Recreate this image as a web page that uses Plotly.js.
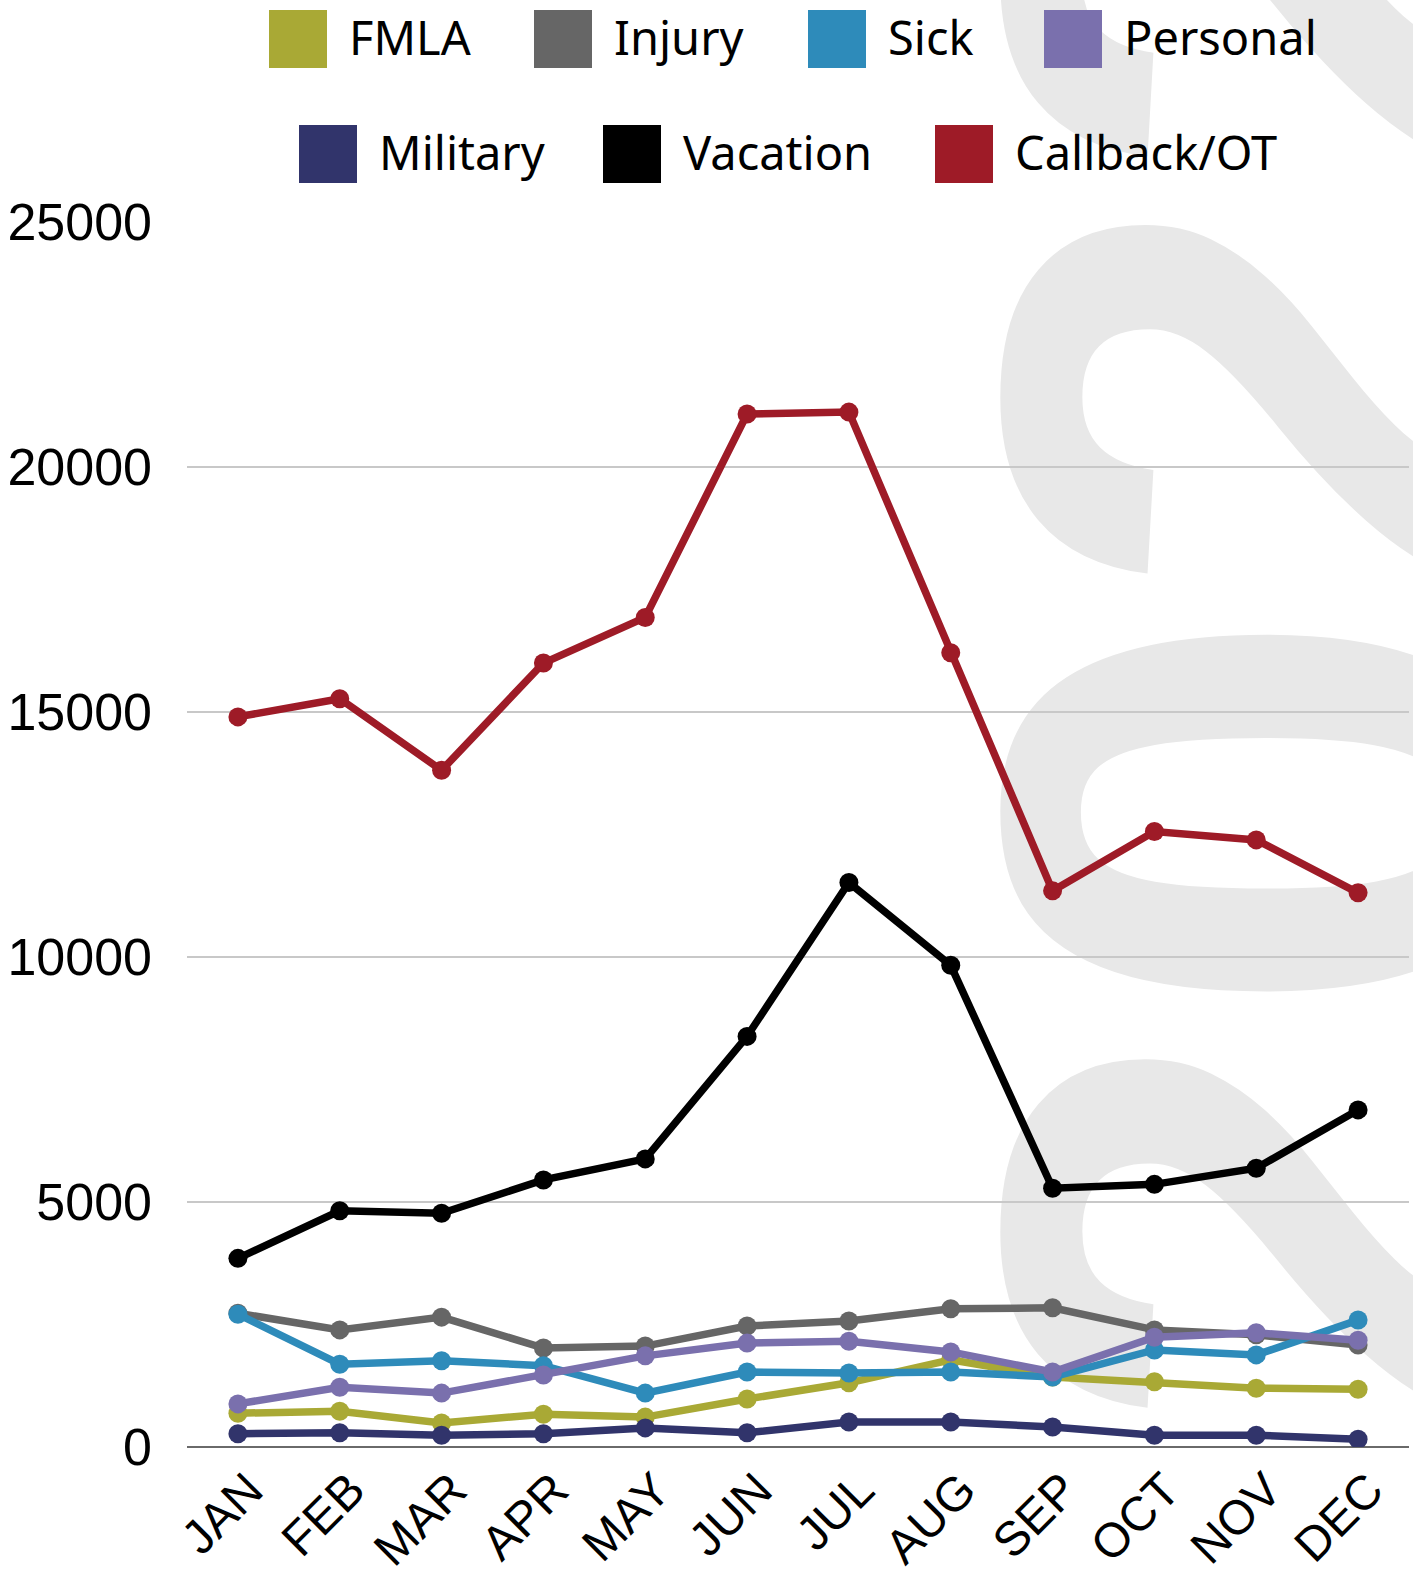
<!DOCTYPE html>
<html>
<head>
<meta charset="utf-8">
<script src="https://cdn.plot.ly/plotly-3.0.1.min.js"></script>
<style>html,body{margin:0;padding:0;background:#fff;}#chart{width:1413px;height:1574px;}</style>
</head>
<body>
<div id="chart"></div>
<script>
// ---- data ----
const months = ['JAN','FEB','MAR','APR','MAY','JUN','JUL','AUG','SEP','OCT','NOV','DEC'];
const fmla     = [690, 730, 490, 670, 610, 980, 1310, 1780, 1430, 1330, 1200, 1180];
const injury   = [2730, 2390, 2650, 2020, 2060, 2470, 2570, 2820, 2840, 2390, 2290, 2080];
const sick     = [2710, 1690, 1760, 1660, 1100, 1530, 1510, 1530, 1430, 1980, 1880, 2590];
const personal = [880, 1220, 1100, 1470, 1860, 2120, 2160, 1940, 1530, 2240, 2330, 2180];
const military = [270, 290, 240, 270, 390, 290, 510, 510, 410, 240, 240, 160];
const vacation = [3850, 4820, 4770, 5450, 5880, 8380, 11520, 9830, 5280, 5360, 5690, 6880];
const callback = [14900, 15270, 13810, 16000, 16930, 21080, 21120, 16210, 11350, 12560, 12390, 11310];
const seriesNames = ['FMLA','Injury','Sick','Personal','Military','Vacation','Callback/OT'];
const yTicks = [0, 5000, 10000, 15000, 20000, 25000];
const watermark = '2022';

// ---- styles ----
const seriesValues = [fmla, injury, sick, personal, military, vacation, callback];
const colors = ['#a9a935', '#666666', '#2e8bba', '#7a70ad', '#31346b', '#000000', '#9e1b27'];

const W = 1413, H = 1574, L = 187, R = 4, T = 222, B = 127;
const pw = W - L - R, ph = H - T - B;
const px2x = p => (p - L) / pw;
const py2y = p => (H - B - p) / ph;

const traces = seriesNames.map((name, i) => ({
  type: 'scatter',
  mode: 'lines+markers',
  name: name,
  x: months,
  y: seriesValues[i],
  line: {color: colors[i], width: 7.5},
  marker: {color: colors[i], size: 19},
  showlegend: false,
  hoverinfo: 'x+y+name'
}));

// custom legend: two centered rows with large square swatches
const legendRows = [[0, 1, 2, 3], [4, 5, 6]];
const legendSwatchX = [[269, 534, 808, 1044], [299, 603, 935]];
const legendRowY = [39, 154];
const shapes = [];
const annotations = [];

// watermark behind everything
shapes.push({
  type: 'rect', xref: 'paper', yref: 'paper', layer: 'below',
  x0: px2x(1183), x1: px2x(1203), y0: py2y(614), y1: py2y(594),
  line: {width: 0}, fillcolor: 'rgba(0,0,0,0)',
  label: {text: watermark, textangle: -90, textposition: 'middle center',
          font: {size: 750, color: '#e8e8e8', weight: 'bold', family: 'Liberation Sans, Arial, sans-serif'}}
});

legendRows.forEach((row, r) => {
  row.forEach((si, k) => {
    const sx = legendSwatchX[r][k];
    const cy = legendRowY[r];
    shapes.push({
      type: 'rect', xref: 'paper', yref: 'paper', layer: 'above',
      x0: px2x(sx), x1: px2x(sx + 58), y0: py2y(cy + 29), y1: py2y(cy - 29),
      line: {width: 0}, fillcolor: colors[si]
    });
    annotations.push({
      xref: 'paper', yref: 'paper', x: px2x(sx + 78), y: py2y(cy - 2),
      xanchor: 'left', yanchor: 'middle', showarrow: false,
      text: seriesNames[si],
      font: {size: 47, color: '#000', family: 'Noto Sans, sans-serif'}
    });
  });
});

const layout = {
  width: W, height: H,
  margin: {l: L, r: R, t: T, b: B, pad: 0},
  paper_bgcolor: '#ffffff', plot_bgcolor: 'rgba(0,0,0,0)',
  showlegend: false,
  font: {family: 'Liberation Sans, Arial, sans-serif', color: '#000'},
  xaxis: {
    type: 'category', range: [-0.5, 11.5], tickangle: -45,
    tickfont: {size: 48, color: '#000', family: 'Liberation Sans, Arial, sans-serif'},
    showgrid: false, zeroline: false, showline: false, ticks: '', automargin: false,
    ticklabelshift: 11, ticklabelstandoff: 4,
    fixedrange: true
  },
  yaxis: {
    range: [0, 25000], tickvals: yTicks, tickformat: 'd',
    tickfont: {size: 52, color: '#000', family: 'Liberation Sans, Arial, sans-serif'},
    showgrid: true, gridcolor: '#c8c8c8', gridwidth: 2,
    zeroline: true, zerolinecolor: '#6a6a6a', zerolinewidth: 2.5,
    showline: false, ticks: '', ticklabelstandoff: 34, automargin: false,
    fixedrange: true
  },
  shapes: shapes,
  annotations: annotations
};

Plotly.newPlot('chart', traces, layout, {displayModeBar: false, staticPlot: true});
</script>
</body>
</html>
